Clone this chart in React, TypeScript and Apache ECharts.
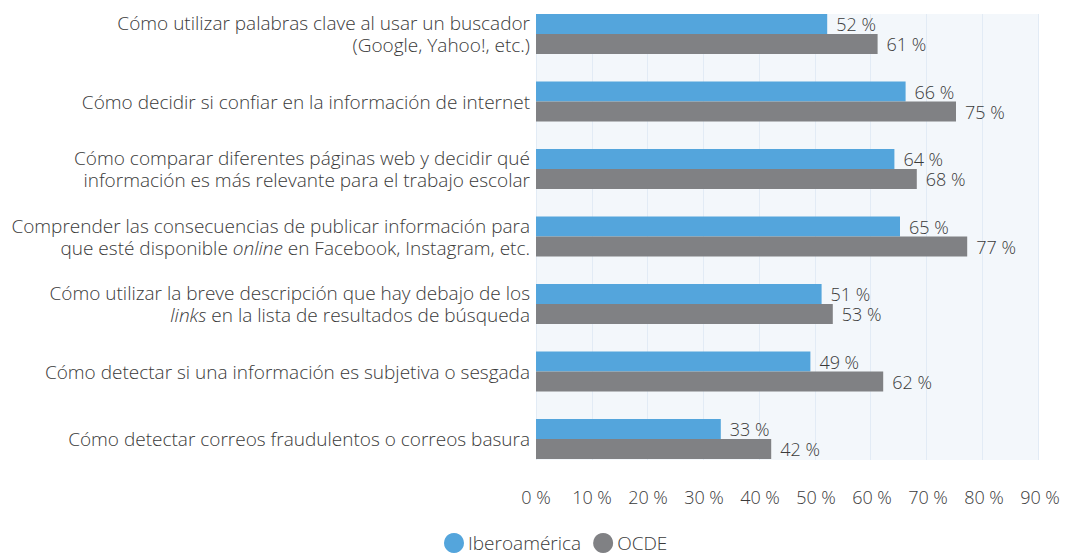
import React, { useEffect, useRef } from "react";
import * as echarts from "echarts";

const categories = [
  "Cómo utilizar palabras clave al usar un buscador\n(Google, Yahoo!, etc.)",
  "Cómo decidir si confiar en la información de internet",
  "Cómo comparar diferentes páginas web y decidir qué\ninformación es más relevante para el trabajo escolar",
  "Comprender las consecuencias de publicar información para\nque esté disponible _online_ en Facebook, Instagram, etc.",
  "Cómo utilizar la breve descripción que hay debajo de los\n_links_ en la lista de resultados de búsqueda",
  "Cómo detectar si una información es subjetiva o sesgada",
  "Cómo detectar correos fraudulentos o correos basura",
];
const seriesNames = ["Iberoamérica", "OCDE"];
const iberoamerica = [52, 66, 64, 65, 51, 49, 33];
const ocde = [61, 75, 68, 77, 53, 62, 42];
const xMin = 0;
const xMax = 90;
const xInterval = 10;

const FONT = "Open Sans";
const TEXT = "#3a3a3a";
const W = 300;

export default function App() {
  const ref = useRef<HTMLDivElement>(null);
  useEffect(() => {
    if (!ref.current) return;
    const chart = echarts.init(ref.current, undefined, { renderer: "svg" });
    const labelFmt = (v: string) =>
      v
        .split("\n")
        .map((line) =>
          line
            .split(/(_[^_]+_)/)
            .filter((s) => s.length > 0)
            .map((s) => (s.startsWith("_") ? `{i|${s.slice(1, -1)}}` : `{n|${s}}`))
            .join("")
        )
        .join("\n");
    chart.setOption({
      animation: false,
      textStyle: { fontFamily: FONT },
      grid: [
        { left: 536, width: 504, top: 0.25, height: 472.5, containLabel: false },
        { left: 536, width: 502, top: 14, height: 446, show: true, backgroundColor: "#f3f7fb", borderWidth: 0, z: 0 },
      ],
      xAxis: [
        {
          gridIndex: 0,
          type: "value",
          min: xMin,
          max: xMax,
          interval: xInterval,
          axisLine: { show: false },
          axisTick: { show: false },
          splitLine: { show: false },
          axisLabel: { formatter: "{value} %", color: TEXT, fontSize: 18, fontWeight: W, margin: 15, fontFamily: FONT },
        },
        {
          gridIndex: 1,
          type: "value",
          min: xMin,
          max: xMax,
          interval: xInterval,
          show: true,
          axisLine: { show: false },
          axisTick: { show: false },
          axisLabel: { show: false },
          splitLine: { show: true, lineStyle: { color: "#e2ebf5", width: 1 } },
        },
      ],
      yAxis: [
        {
          gridIndex: 0,
          type: "category",
          data: categories,
          inverse: true,
          axisLine: { show: false },
          axisTick: { show: false },
          axisLabel: {
            formatter: labelFmt,
            margin: 6,
            align: "right",
            rich: {
              n: { fontSize: 19, fontWeight: W, color: TEXT, fontFamily: FONT, lineHeight: 22 },
              i: { fontSize: 19, fontWeight: W, color: TEXT, fontFamily: FONT, fontStyle: "italic", lineHeight: 22 },
            },
          },
        },
        { gridIndex: 1, type: "category", data: [""], show: false },
      ],
      legend: {
        top: 528,
        left: 439,
        icon: "circle",
        itemWidth: 20,
        itemHeight: 20,
        itemGap: 12,
        textStyle: { fontSize: 19, fontWeight: W, color: TEXT, fontFamily: FONT, padding: [0, 0, 0, -1] },
        data: seriesNames,
      },
      series: [
        {
          name: seriesNames[0],
          type: "bar",
          xAxisIndex: 0,
          yAxisIndex: 0,
          data: iberoamerica,
          barWidth: 20,
          barGap: "0%",
          itemStyle: { color: "#54a5dc" },
          label: { show: true, position: "right", distance: 9, formatter: "{c} %", color: TEXT, fontSize: 18, fontWeight: W, fontFamily: FONT },
          z: 3,
        },
        {
          name: seriesNames[1],
          type: "bar",
          xAxisIndex: 0,
          yAxisIndex: 0,
          data: ocde,
          barWidth: 20,
          barGap: "0%",
          itemStyle: { color: "#808184" },
          label: { show: true, position: "right", distance: 9, formatter: "{c} %", color: TEXT, fontSize: 18, fontWeight: W, fontFamily: FONT },
          z: 3,
        },
      ],
    });
    return () => chart.dispose();
  }, []);
  return <div ref={ref} style={{ width: 1067, height: 555, position: "absolute", left: 0, top: 0 }} />;
}
